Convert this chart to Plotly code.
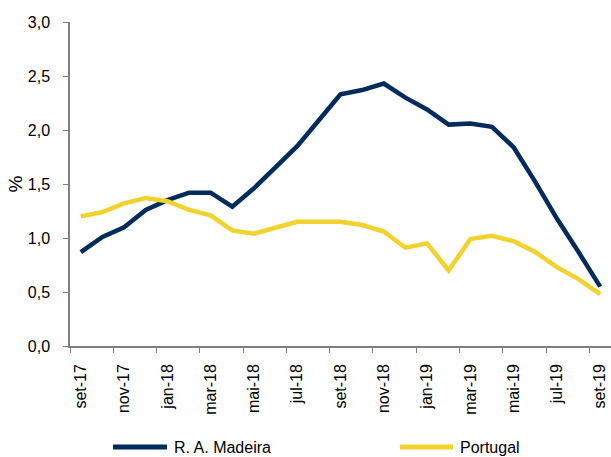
import plotly.graph_objects as go

months = ["set-17","out-17","nov-17","dez-17","jan-18","fev-18","mar-18","abr-18","mai-18","jun-18",
          "jul-18","ago-18","set-18","out-18","nov-18","dez-18","jan-19","fev-19","mar-19","abr-19",
          "mai-19","jun-19","jul-19","ago-19","set-19"]
madeira = [0.87,1.01,1.10,1.26,1.35,1.42,1.42,1.29,1.46,1.65,1.85,2.09,2.33,2.37,2.43,2.30,2.19,2.05,2.06,2.03,
           1.84,1.52,1.18,0.87,0.55]
portugal = [1.20,1.24,1.32,1.37,1.34,1.26,1.21,1.07,1.04,1.09,1.15,1.15,1.15,1.12,1.06,0.91,0.95,0.70,0.99,1.02,
            0.97,0.87,0.73,0.62,0.48]
yticks = [0, 0.5, 1.0, 1.5, 2.0, 2.5, 3.0]
ytick_text = ["0,0", "0,5", "1,0", "1,5", "2,0", "2,5", "3,0"]
series_names = ["R. A. Madeira", "Portugal"]
series_colors = ["#002B5C", "#F2D22E"]

x = list(range(len(months)))
fig = go.Figure()
for name, vals, col in zip(series_names, [madeira, portugal], series_colors):
    fig.add_trace(go.Scatter(x=x, y=vals, mode="lines", name=name,
                             line=dict(color=col, width=4.5), showlegend=False))

# manual legend (paper coordinates) to keep the plot area fixed
leg_y = -0.312
leg_pos = [(0.0795, 0.1793, 0.1885), (0.61, 0.708, 0.717)]
for (x0, x1, xt), name, col in zip(leg_pos, series_names, series_colors):
    fig.add_shape(type="line", xref="paper", yref="paper", x0=x0, x1=x1, y0=leg_y, y1=leg_y,
                  line=dict(color=col, width=5))
    fig.add_annotation(xref="paper", yref="paper", x=xt, y=leg_y, text=name, showarrow=False,
                       xanchor="left", yanchor="middle", font=dict(size=16, color="#000000"))

fig.update_layout(
    width=611, height=457,
    margin=dict(l=70, r=0, t=22, b=111),
    paper_bgcolor="white", plot_bgcolor="white",
    font=dict(family="Liberation Sans, Arial, sans-serif", size=16, color="#000000"),
    showlegend=False,
    xaxis=dict(range=[-0.5, 24.5], tickvals=x[::2], ticktext=months[::2], tickangle=-90,
               ticks="", showgrid=False, zeroline=False, showline=True, linecolor="#808080", linewidth=1.5,
               minor=dict(ticks="outside", tick0=-0.5, dtick=2, ticklen=5, tickcolor="#808080", showgrid=False),
               ticklabelstandoff=10, fixedrange=True, automargin=False),
    yaxis=dict(range=[0, 3.0], tickvals=yticks, ticktext=ytick_text, ticks="outside", ticklen=5,
               tickcolor="#808080", showgrid=False, zeroline=False, showline=True, linecolor="#808080",
               linewidth=1.5, title=dict(text="%", standoff=0), ticklabelstandoff=10, fixedrange=True,
               automargin=False),
)
fig.write_html("out.html", config={"displayModeBar": False},
               post_script="document.body.style.margin='0';document.body.style.overflow='hidden';")
